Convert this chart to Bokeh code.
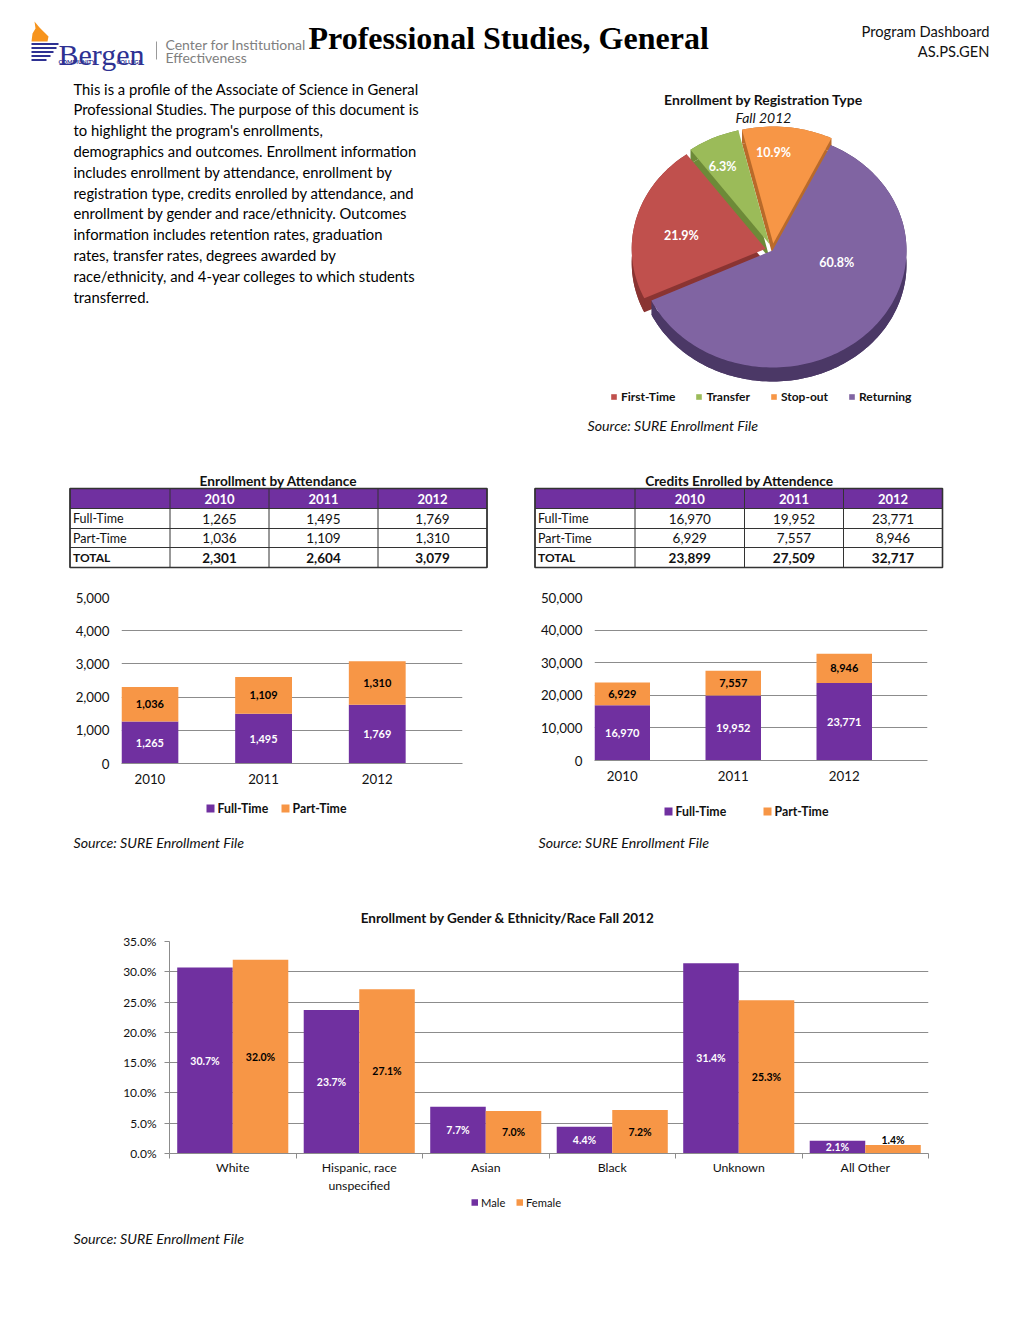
import math
import textwrap
from bokeh.plotting import figure
from bokeh.models import Range1d, FixedTicker, NumeralTickFormatter, Legend, LegendItem
from bokeh.layouts import column, row
from bokeh.core.properties import value
from bokeh.embed import file_html
from bokeh.resources import INLINE

# ---------------- data ----------------
reg_types = ["First-Time", "Transfer", "Stop-out", "Returning"]
reg_pct = [21.9, 6.3, 10.9, 60.8]

years = ["2010", "2011", "2012"]
att_series = ["Full-Time", "Part-Time"]
enr_full = [1265, 1495, 1769]
enr_part = [1036, 1109, 1310]
cred_full = [16970, 19952, 23771]
cred_part = [6929, 7557, 8946]

eth_cats = ["White", "Hispanic, race unspecified", "Asian", "Black", "Unknown", "All Other"]
gender_series = ["Male", "Female"]
eth_male = [30.7, 23.7, 7.7, 4.4, 31.4, 2.1]
eth_female = [32.0, 27.1, 7.0, 7.2, 25.3, 1.4]

# ---------------- styles ----------------
FONT = "Lato"
SERIF = "Liberation Serif"
PURPLE = "#7030A0"
ORANGE = "#F79646"
GRID = "#8C8C8C"
INK = "#111111"
NAVY = "#2E3192"
SOURCE = "Source: SURE Enrollment File"

paragraph = [
    "This is a profile of the Associate of Science in General",
    "Professional Studies. The purpose of this document is",
    "to highlight the program's enrollments,",
    "demographics and outcomes. Enrollment information",
    "includes enrollment by attendance, enrollment by",
    "registration type, credits enrolled by attendance, and",
    "enrollment by gender and race/ethnicity. Outcomes",
    "information includes retention rates, graduation",
    "rates, transfer rates, degrees awarded by",
    "race/ethnicity, and 4-year colleges to which students",
    "transferred.",
]


def canvas(x0, x1, y0, y1):
    p = figure(width=x1 - x0, height=y1 - y0,
               x_range=Range1d(x0, x1), y_range=Range1d(y1, y0),
               x_axis_location=None, y_axis_location=None,
               output_backend="svg", toolbar_location=None, min_border=0)
    p.outline_line_color = None
    p.grid.visible = False
    return p


def put(p, x, y, s, size=13, color=INK, align="left", style="normal",
        font=FONT, baseline="middle"):
    p.text(x=[x], y=[y], text=[s], text_font=value(font),
           text_font_size=f"{size}px", text_color=color, text_align=align,
           text_font_style=style, text_baseline=baseline)


def legend_row(p, y, xs, colors, labels, sq=8, size=12.5, style="bold", gap=3):
    p.rect(x=[x + sq / 2 for x in xs], y=[y] * len(xs), width=sq, height=sq,
           fill_color=colors, line_color=None)
    p.text(x=[x + sq + gap for x in xs], y=[y] * len(xs), text=labels, text_font=value(FONT),
           text_font_size=f"{size}px", text_font_style=style, text_color=INK,
           text_align="left", text_baseline="middle")


# ---------------- header ----------------
hdr = canvas(0, 1012, 0, 80)
hdr.patch(x=[31, 32, 35, 34, 39, 44, 48, 47], y=[41, 33, 28, 21, 27, 32, 36, 41],
          fill_color="#F7941D", line_color=None)
for yy, xe in zip([43.5, 47.5, 51.5, 55.5, 59.5], [58, 56, 53, 50, 46]):
    hdr.line(x=[31, xe], y=[yy, yy], line_color=NAVY, line_width=2.2)
put(hdr, 58, 54, "Bergen", size=30, color=NAVY, font=SERIF, baseline="alphabetic")
put(hdr, 58, 60.5, "COMMUNITY", size=5.8, color=NAVY, style="bold")
put(hdr, 116, 60.5, "COLLEGE", size=5.8, color=NAVY, style="bold")
hdr.line(x=[156, 156], y=[41, 59], line_color="#9A9A9A", line_width=1)
put(hdr, 165, 44, "Center for Institutional", size=14, color="#7F7F7F")
put(hdr, 165, 57, "Effectiveness", size=14, color="#7F7F7F")
put(hdr, 308, 37, "Professional Studies, General", size=32, color="#000000",
    font=SERIF, style="bold")
put(hdr, 989, 30, "Program Dashboard", size=14.7, align="right")
put(hdr, 989, 50, "AS.PS.GEN", size=14.7, align="right")

# ---------------- paragraph ----------------
txtp = canvas(0, 578, 80, 455)
for i, line in enumerate(paragraph):
    put(txtp, 73, 88 + i * 20.8, line, size=14.8, color="#000000")

# ---------------- pie ----------------
pie = canvas(578, 1012, 80, 455)
put(pie, 763, 99, "Enrollment by Registration Type", size=14, style="bold", align="center")
put(pie, 763, 117, "Fall 2012", size=14, style="italic", align="center")
put(pie, 587, 425, SOURCE, size=14.2, style="italic")

cx, cy, rx, ry, depth = 772, 250, 134, 117, 14
explode = [7, 7, 7, 0]
tops = ["#C0504D", "#9BBB59", "#F79646", "#8064A2"]
sides = ["#8A3432", "#6D8A38", "#B96A2A", "#4B3866"]
lab_r = [0.64, 0.75, 0.78, 0.49]
lab_da = [-4, -3, -6, -33]
start = 245.0

slices = []
a = start
for v in reg_pct:
    a1 = a + v / 100.0 * 360.0
    slices.append((a, a1))
    a = a1


def slice_pts(a0, a1, ox, oy, dy=0.0):
    n = max(4, int((a1 - a0) / 1.5))
    arc_x, arc_y = [], []
    for k in range(n + 1):
        t = math.radians(a0 + (a1 - a0) * k / n)
        arc_x.append(cx + ox + rx * math.sin(t))
        arc_y.append(cy + oy - ry * math.cos(t) + dy)
    return [cx + ox] + arc_x, [cy + oy + dy] + arc_y, arc_x, arc_y


side_xs, side_ys, side_c = [], [], []
geo = []
for i, (a0, a1) in enumerate(slices):
    mid = math.radians((a0 + a1) / 2)
    ox, oy = explode[i] * math.sin(mid), -explode[i] * math.cos(mid)
    geo.append((ox, oy))
    bx, by, _, _ = slice_pts(a0, a1, ox, oy, depth)
    side_xs.append(bx); side_ys.append(by); side_c.append(sides[i])
    _, _, ax, ay = slice_pts(a0, a1, ox, oy, 0)
    side_xs.append(ax + ax[::-1]); side_ys.append(ay + [y + depth for y in ay[::-1]]); side_c.append(sides[i])
pie.patches(xs=side_xs, ys=side_ys, fill_color=side_c, line_color=None)

top_renderers = []
for i, (a0, a1) in enumerate(slices):
    ox, oy = geo[i]
    tx, ty, _, _ = slice_pts(a0, a1, ox, oy, 0)
    r = pie.patch(x=tx, y=ty, fill_color=tops[i], line_color=None)
    top_renderers.append(r)
    t = math.radians((a0 + a1) / 2 + lab_da[i])
    lx = cx + ox + lab_r[i] * rx * math.sin(t)
    ly = cy + oy - lab_r[i] * ry * math.cos(t)
    put(pie, lx, ly, f"{reg_pct[i]:.1f}%", size=12.5, color="white", style="bold", align="center")

pie_leg = Legend(items=[LegendItem(label=reg_types[i], renderers=[top_renderers[i]]) for i in range(4)],
                 location=(32, 51), orientation="horizontal", glyph_width=7, glyph_height=7,
                 label_standoff=4, spacing=20, padding=0, margin=0, border_line_color=None,
                 background_fill_alpha=0, label_text_font=FONT, label_text_font_size="12px",
                 label_text_font_style="bold", label_text_color=INK, label_height=14)
pie.add_layout(pie_leg)


# ---------------- tables ----------------
def table(x0, x1, title, tcx, cols, full, part):
    p = canvas(x0, x1, 455, 583)
    rows = [488, 508, 528, 547, 567]
    put(p, tcx, 480, title, size=13.7, style="bold", align="center")
    p.quad(left=cols[0], right=cols[-1], top=rows[0], bottom=rows[1], fill_color=PURPLE, line_color=None)
    p.segment(x0=[cols[0]] * len(rows), x1=[cols[-1]] * len(rows), y0=rows, y1=rows,
              line_color="#333333", line_width=1)
    p.segment(x0=cols, x1=cols, y0=[rows[0]] * len(cols), y1=[rows[-1]] * len(cols),
              line_color="#333333", line_width=1)
    p.quad(left=cols[0], right=cols[-1], top=rows[0], bottom=rows[-1], fill_color=None,
           line_color="#333333", line_width=1.6)
    centers = [(cols[j + 1] + cols[j + 2]) / 2 for j in range(3)]
    rc = [(rows[k] + rows[k + 1]) / 2 for k in range(4)]
    totals = [f + q for f, q in zip(full, part)]
    for j in range(3):
        put(p, centers[j], rc[0], years[j], size=13, color="white", style="bold", align="center")
        put(p, centers[j], rc[1], f"{full[j]:,}", size=13.5, align="center")
        put(p, centers[j], rc[2], f"{part[j]:,}", size=13.5, align="center")
        put(p, centers[j], rc[3], f"{totals[j]:,}", size=13.5, align="center", style="bold")
    put(p, cols[0] + 3, rc[1], att_series[0], size=12.5)
    put(p, cols[0] + 3, rc[2], att_series[1], size=12.5)
    put(p, cols[0] + 3, rc[3], "TOTAL", size=12, style="bold")
    return p


tabL = table(0, 510, "Enrollment by Attendance", 278, [69.5, 169.5, 268.5, 377.5, 486.5], enr_full, enr_part)
tabR = table(510, 1012, "Credits Enrolled by Attendence", 739, [534.5, 634.5, 744, 843, 942], cred_full, cred_part)


# ---------------- stacked charts ----------------
def stacked(x0, x1, y0, y1, fl, fr, ft, fb, full, part, ymax, step):
    p = figure(width=x1 - x0, height=y1 - y0, x_range=Range1d(0, 3), y_range=Range1d(0, ymax),
               output_backend="svg", toolbar_location=None,
               min_border_left=fl - x0, min_border_right=x1 - fr,
               min_border_top=ft - y0, min_border_bottom=y1 - fb)
    p.outline_line_color = None
    xs = [i + 0.25 for i in range(3)]
    tops_ = [f + q for f, q in zip(full, part)]
    p.vbar(x=xs, width=0.5, bottom=0, top=full, fill_color=PURPLE, line_color=None)
    p.vbar(x=xs, width=0.5, bottom=full, top=tops_, fill_color=ORANGE, line_color=None)
    p.text(x=xs, y=[f / 2 for f in full], text=[f"{f:,}" for f in full], text_font=value(FONT),
           text_font_size="11px", text_font_style="bold", text_color="white",
           text_align="center", text_baseline="middle")
    p.text(x=xs, y=[f + q / 2 for f, q in zip(full, part)], text=[f"{q:,}" for q in part],
           text_font=value(FONT), text_font_size="11px", text_font_style="bold",
           text_color="#000000", text_align="center", text_baseline="middle")
    p.xgrid.visible = False
    p.ygrid.grid_line_color = GRID
    p.yaxis.ticker = FixedTicker(ticks=list(range(0, ymax + 1, step)))
    p.yaxis.formatter = NumeralTickFormatter(format="0,0")
    p.yaxis.axis_line_color = None
    p.yaxis.major_tick_line_color = None
    p.yaxis.minor_tick_line_color = None
    p.yaxis.major_tick_out = 0
    p.yaxis.major_tick_in = 0
    p.yaxis.major_label_standoff = 12
    p.xaxis.ticker = FixedTicker(ticks=xs)
    p.xaxis.major_label_overrides = {x: y for x, y in zip(xs, years)}
    p.xaxis.axis_line_color = GRID
    p.xaxis.major_tick_line_color = None
    p.xaxis.minor_tick_line_color = None
    p.xaxis.major_tick_out = 0
    p.xaxis.major_tick_in = 0
    p.xaxis.major_label_standoff = 10
    for ax in (p.xaxis, p.yaxis):
        ax.major_label_text_font = FONT
        ax.major_label_text_font_size = "13.3px"
        ax.major_label_text_color = INK
    return p


chL = stacked(0, 510, 583, 795, 121, 462, 597, 763, enr_full, enr_part, 5000, 1000)
chR = stacked(510, 1012, 583, 795, 594, 927, 597, 760, cred_full, cred_part, 50000, 10000)

srcL = canvas(0, 510, 795, 870)
legend_row(srcL, 808, [206, 281], [PURPLE, ORANGE], att_series, sq=8, size=12.3)
put(srcL, 73, 842, SOURCE, size=14.2, style="italic")
srcR = canvas(510, 1012, 795, 870)
legend_row(srcR, 811, [664, 763], [PURPLE, ORANGE], att_series, sq=8, size=12.3)
put(srcR, 538, 842, SOURCE, size=14.2, style="italic")

# ---------------- bottom grouped chart ----------------
ttlB = canvas(0, 1012, 870, 930)
put(ttlB, 507, 917, "Enrollment by Gender & Ethnicity/Race Fall 2012", size=13.5, style="bold", align="center")

n = len(eth_cats)
chB = figure(width=1012, height=265, x_range=Range1d(0, n), y_range=Range1d(0, 0.35),
             output_backend="svg", toolbar_location=None,
             min_border_left=169, min_border_right=84, min_border_top=11, min_border_bottom=42)
chB.outline_line_color = None
xm = [i + 0.2805 for i in range(n)]
xf = [i + 0.7195 for i in range(n)]
chB.vbar(x=xm, width=0.439, bottom=0, top=[v / 100 for v in eth_male], fill_color=PURPLE, line_color=None)
chB.vbar(x=xf, width=0.439, bottom=0, top=[v / 100 for v in eth_female], fill_color=ORANGE, line_color=None)


def lab_y(v):
    return (v + 0.9) / 100 if v < 2.0 else v / 200


chB.text(x=xm, y=[v / 200 for v in eth_male], text=[f"{v:.1f}%" for v in eth_male],
         text_font=value(FONT), text_font_size="10.5px", text_font_style="bold", text_color="white",
         text_align="center", text_baseline="middle")
chB.text(x=xf, y=[lab_y(v) for v in eth_female], text=[f"{v:.1f}%" for v in eth_female],
         text_font=value(FONT), text_font_size="10.5px", text_font_style="bold", text_color="#000000",
         text_align="center", text_baseline="middle")
chB.xgrid.visible = False
chB.ygrid.grid_line_color = GRID
chB.yaxis.ticker = FixedTicker(ticks=[round(k * 0.05, 2) for k in range(8)])
chB.yaxis.formatter = NumeralTickFormatter(format="0.0%")
chB.yaxis.axis_line_color = GRID
chB.yaxis.major_tick_line_color = GRID
chB.yaxis.minor_tick_line_color = None
chB.yaxis.major_tick_out = 5
chB.yaxis.major_tick_in = 0
chB.yaxis.major_label_standoff = 8
centers = [i + 0.5 for i in range(n)]
chB.xaxis.ticker = FixedTicker(ticks=centers, minor_ticks=list(range(n + 1)))
chB.xaxis.major_label_overrides = {c: textwrap.fill(s, 15) for c, s in zip(centers, eth_cats)}
chB.xaxis.axis_line_color = GRID
chB.xaxis.major_tick_line_color = None
chB.xaxis.major_tick_out = 0
chB.xaxis.major_tick_in = 0
chB.xaxis.minor_tick_line_color = GRID
chB.xaxis.minor_tick_out = 5
chB.xaxis.minor_tick_in = 0
chB.xaxis.major_label_standoff = 1
chB.yaxis.major_label_text_font_size = "12px"
chB.xaxis.major_label_text_font_size = "12.3px"
for ax in (chB.xaxis, chB.yaxis):
    ax.major_label_text_font = FONT
    ax.major_label_text_color = INK

srcB = canvas(0, 1012, 1195, 1260)
legend_row(srcB, 1202, [471, 516], [PURPLE, ORANGE], gender_series, sq=6.5, size=11.2, style="normal")
put(srcB, 73, 1238, SOURCE, size=14.2, style="italic")

layout = column(
    column(hdr),
    row(txtp, pie),
    row(column(column(tabL), column(chL), column(srcL)),
        column(column(tabR), column(chR), column(srcR))),
    column(ttlB),
    column(chB),
    column(srcB),
)

open("out.html", "w").write(file_html(layout, INLINE))
